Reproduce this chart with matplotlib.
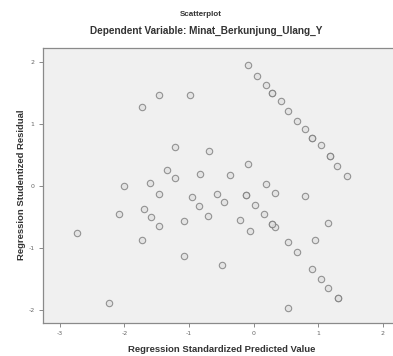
import matplotlib
matplotlib.use("Agg")
import matplotlib.pyplot as plt

# Data (standardized predicted value, studentized residual)
diag_upper_x = [-0.09, 0.05, 0.19, 0.29, 0.42, 0.54, 0.68, 0.80, 0.91, 1.04, 1.18, 1.30, 1.44, 0.29, 0.91, 1.18]
diag_upper_y = [1.95, 1.77, 1.63, 1.50, 1.37, 1.21, 1.05, 0.92, 0.77, 0.65, 0.48, 0.32, 0.15, 1.50, 0.77, 0.48]

diag_lower_x = [-0.11, 0.03, 0.17, 0.29, 0.34, 0.54, 0.67, 0.91, 1.04, 1.16, 1.31, 1.31, 0.29, -0.11]
diag_lower_y = [-0.15, -0.31, -0.46, -0.61, -0.67, -0.91, -1.06, -1.34, -1.50, -1.65, -1.81, -1.81, -0.61, -0.15]

other_x = [-2.01, -1.61, -1.46, -0.96, -0.85, -1.70, -2.08, -1.59, -1.08, -1.46,
           -2.73, -1.72, -1.07, -2.24, -0.70, -0.56, -0.46, -0.21, -0.06, -0.49,
           0.20, 0.33, 0.80, 1.16, 0.95, 0.53,
           -1.47, -1.73, -0.98, -1.21, -0.69, -0.08, -1.34, -1.22, -0.83, -0.37]
other_y = [0.00, 0.05, -0.13, -0.18, -0.32, -0.37, -0.45, -0.50, -0.56, -0.65,
           -0.76, -0.87, -1.13, -1.88, -0.48, -0.13, -0.26, -0.55, -0.72, -1.27,
           0.03, -0.12, -0.16, -0.60, -0.87, -1.97,
           1.47, 1.27, 1.46, 0.62, 0.56, 0.35, 0.25, 0.13, 0.19, 0.17]

x_ticks = [-3, -2, -1, 0, 1, 2]
y_ticks = [-2, -1, 0, 1, 2]

title = "Scatterplot"
subtitle = "Dependent Variable: Minat_Berkunjung_Ulang_Y"
xlabel = "Regression Standardized Predicted Value"
ylabel = "Regression Studentized Residual"

W, H = 393, 356
fig = plt.figure(figsize=(W / 100, H / 100), dpi=100)
fig.patch.set_facecolor("white")

ax = fig.add_axes([43 / W, 1 - 323 / H, 1 - 43 / W, (323 - 48) / H])
ax.set_facecolor("#f0f0f0")

all_x = diag_upper_x + diag_lower_x + other_x
all_y = diag_upper_y + diag_lower_y + other_y
ax.plot(all_x, all_y, linestyle="none", marker="o", markersize=4.6,
        markerfacecolor="#e2e2e2", markeredgecolor="#7c7c7c",
        markeredgewidth=0.8, alpha=0.8)

ax.set_xlim(-3.26, 2.16)
ax.set_ylim(-2.21, 2.22)
ax.set_xticks(x_ticks)
ax.set_yticks(y_ticks)
ax.set_xticklabels([str(v) for v in x_ticks])
ax.set_yticklabels([str(v) for v in y_ticks])
ax.tick_params(axis="both", direction="out", length=3, width=0.6,
               color="#777777", labelsize=4.5, labelcolor="#666666", pad=3)

for side in ["left", "bottom", "top"]:
    ax.spines[side].set_color("#8a8a8a")
    ax.spines[side].set_linewidth(0.9)
ax.spines["right"].set_visible(False)

fam = ["Liberation Sans", "DejaVu Sans"]
fig.text(201 / W, 1 - 15 / H, title, ha="center", va="center",
         fontsize=5.8, fontweight="bold", color="#333333", family=fam)
fig.text(206 / W, 1 - 31 / H, subtitle, ha="center", va="center",
         fontsize=7.2, fontweight="bold", color="#333333", family=fam)
fig.text(222 / W, 1 - 350 / H, xlabel, ha="center", va="center",
         fontsize=6.8, fontweight="bold", color="#333333", family=fam)
fig.text(22 / W, 1 - 185 / H, ylabel, ha="center", va="center", rotation=90,
         fontsize=6.8, fontweight="bold", color="#333333", family=fam)

fig.savefig("out.png", dpi=100)
